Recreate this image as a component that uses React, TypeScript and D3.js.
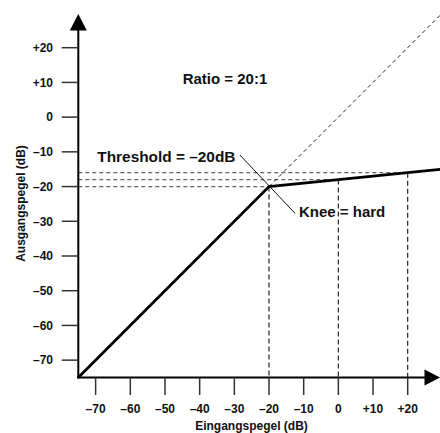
import React from "react";
import * as d3 from "d3";

const tickValues = [-70, -60, -50, -40, -30, -20, -10, 0, 10, 20];
const tickLabels = ["–70", "–60", "–50", "–40", "–30", "–20", "–10", "0", "+10", "+20"];

// compressor transfer curve (input dB -> output dB)
const curveIn = [-75, -20, 0, 20, 30];
const curveOut = [-75, -20, -18, -16, -15];

// unity (1:1) reference line above threshold
const unityIn = [-20, 30];
const unityOut = [-20, 30];

// guide points (input, output) for dashed helper lines
const guideIn = [-20, 0, 20];
const guideOut = [-20, -18, -16];

// annotation leader line through the knee
const leaderIn = [-28.4, -12.5];
const leaderOut = [-10.9, -27.7];

const FONT = "'Liberation Sans', Arial, Helvetica, sans-serif";

export default function App() {
  const W = 440;
  const H = 433;
  const x = d3.scaleLinear().domain([-75, 20]).range([78.3, 407.7]);
  const y = d3.scaleLinear().domain([-75, 20]).range([377.5, 47.7]);

  const line = d3
    .line<[number, number]>()
    .x((d) => x(d[0]))
    .y((d) => y(d[1]));

  const curvePts = curveIn.map((v, i) => [v, curveOut[i]] as [number, number]);
  const unityPts = unityIn.map((v, i) => [v, unityOut[i]] as [number, number]);
  const leaderPts = leaderIn.map((v, i) => [v, leaderOut[i]] as [number, number]);

  const x0 = x(-75);
  const y0 = y(-75);

  return (
    <svg
      width={W}
      height={H}
      style={{ position: "absolute", left: 0, top: 0, background: "#fff" }}
      fontFamily={FONT}
    >
      <defs>
        <clipPath id="plot">
          <rect x={0} y={0} width={W} height={H} />
        </clipPath>
      </defs>

      {/* horizontal guide dashes */}
      {guideIn.map((gi, i) => (
        <line
          key={"h" + i}
          x1={x0}
          x2={x(gi)}
          y1={y(guideOut[i])}
          y2={y(guideOut[i])}
          stroke="#666"
          strokeWidth={1.2}
          strokeDasharray="4,3"
        />
      ))}
      {/* vertical guide dashes */}
      {guideIn.map((gi, i) => (
        <line
          key={"v" + i}
          x1={x(gi)}
          x2={x(gi)}
          y1={y(guideOut[i])}
          y2={y0}
          stroke="#111"
          strokeWidth={1.1}
          strokeDasharray="5,3"
        />
      ))}

      {/* unity line */}
      <path
        d={line(unityPts) || ""}
        fill="none"
        stroke="#111"
        strokeWidth={0.9}
        strokeDasharray="4,3"
        clipPath="url(#plot)"
      />

      {/* leader */}
      <path d={line(leaderPts) || ""} fill="none" stroke="#111" strokeWidth={1} />

      {/* transfer curve */}
      <path
        d={line(curvePts) || ""}
        fill="none"
        stroke="#000"
        strokeWidth={2.8}
        strokeLinejoin="miter"
        clipPath="url(#plot)"
      />

      {/* axes */}
      <line x1={x0} x2={x0} y1={y0 + 1} y2={30} stroke="#000" strokeWidth={2} />
      <line x1={x0 - 1} x2={425} y1={y0} y2={y0} stroke="#000" strokeWidth={2} />
      <polygon points={`${x0},14 ${x0 - 8.5},30.5 ${x0 + 8.5},30.5`} fill="#000" />
      <polygon points={`440,${y0} 424.5,${y0 - 8} 424.5,${y0 + 8}`} fill="#000" />

      {/* y ticks */}
      {tickValues.map((t, i) => (
        <g key={"yt" + i}>
          <line x1={61.7} x2={x0} y1={y(t)} y2={y(t)} stroke="#333" strokeWidth={1.5} />
          <text
            x={53}
            y={y(t)}
            dy="0.36em"
            textAnchor="end"
            fontSize={12}
            fontWeight="bold"
            fill="#111"
          >
            {tickLabels[i]}
          </text>
        </g>
      ))}

      {/* x ticks */}
      {tickValues.map((t, i) => (
        <g key={"xt" + i}>
          <line x1={x(t)} x2={x(t)} y1={y0} y2={395} stroke="#333" strokeWidth={1.5} />
          <text
            x={x(t)}
            y={412.7}
            textAnchor="middle"
            fontSize={12}
            fontWeight="bold"
            fill="#111"
          >
            {tickLabels[i]}
          </text>
        </g>
      ))}

      {/* axis titles */}
      <text x={251.5} y={430} textAnchor="middle" fontSize={12} fontWeight="bold" fill="#111">
        Eingangspegel (dB)
      </text>
      <text
        transform="translate(25,203.5) rotate(-90)"
        textAnchor="middle"
        fontSize={12}
        fontWeight="bold"
        fill="#111"
      >
        Ausgangspegel (dB)
      </text>

      {/* annotations */}
      <text x={182.7} y={83.5} fontSize={15} fontWeight="bold" fill="#111">
        Ratio = 20:1
      </text>
      <text x={97.3} y={161.7} fontSize={15.4} fontWeight="bold" fill="#111">
        Threshold = –20dB
      </text>
      <text x={299} y={217.3} fontSize={15} fontWeight="bold" fill="#111">
        Knee = hard
      </text>
    </svg>
  );
}
